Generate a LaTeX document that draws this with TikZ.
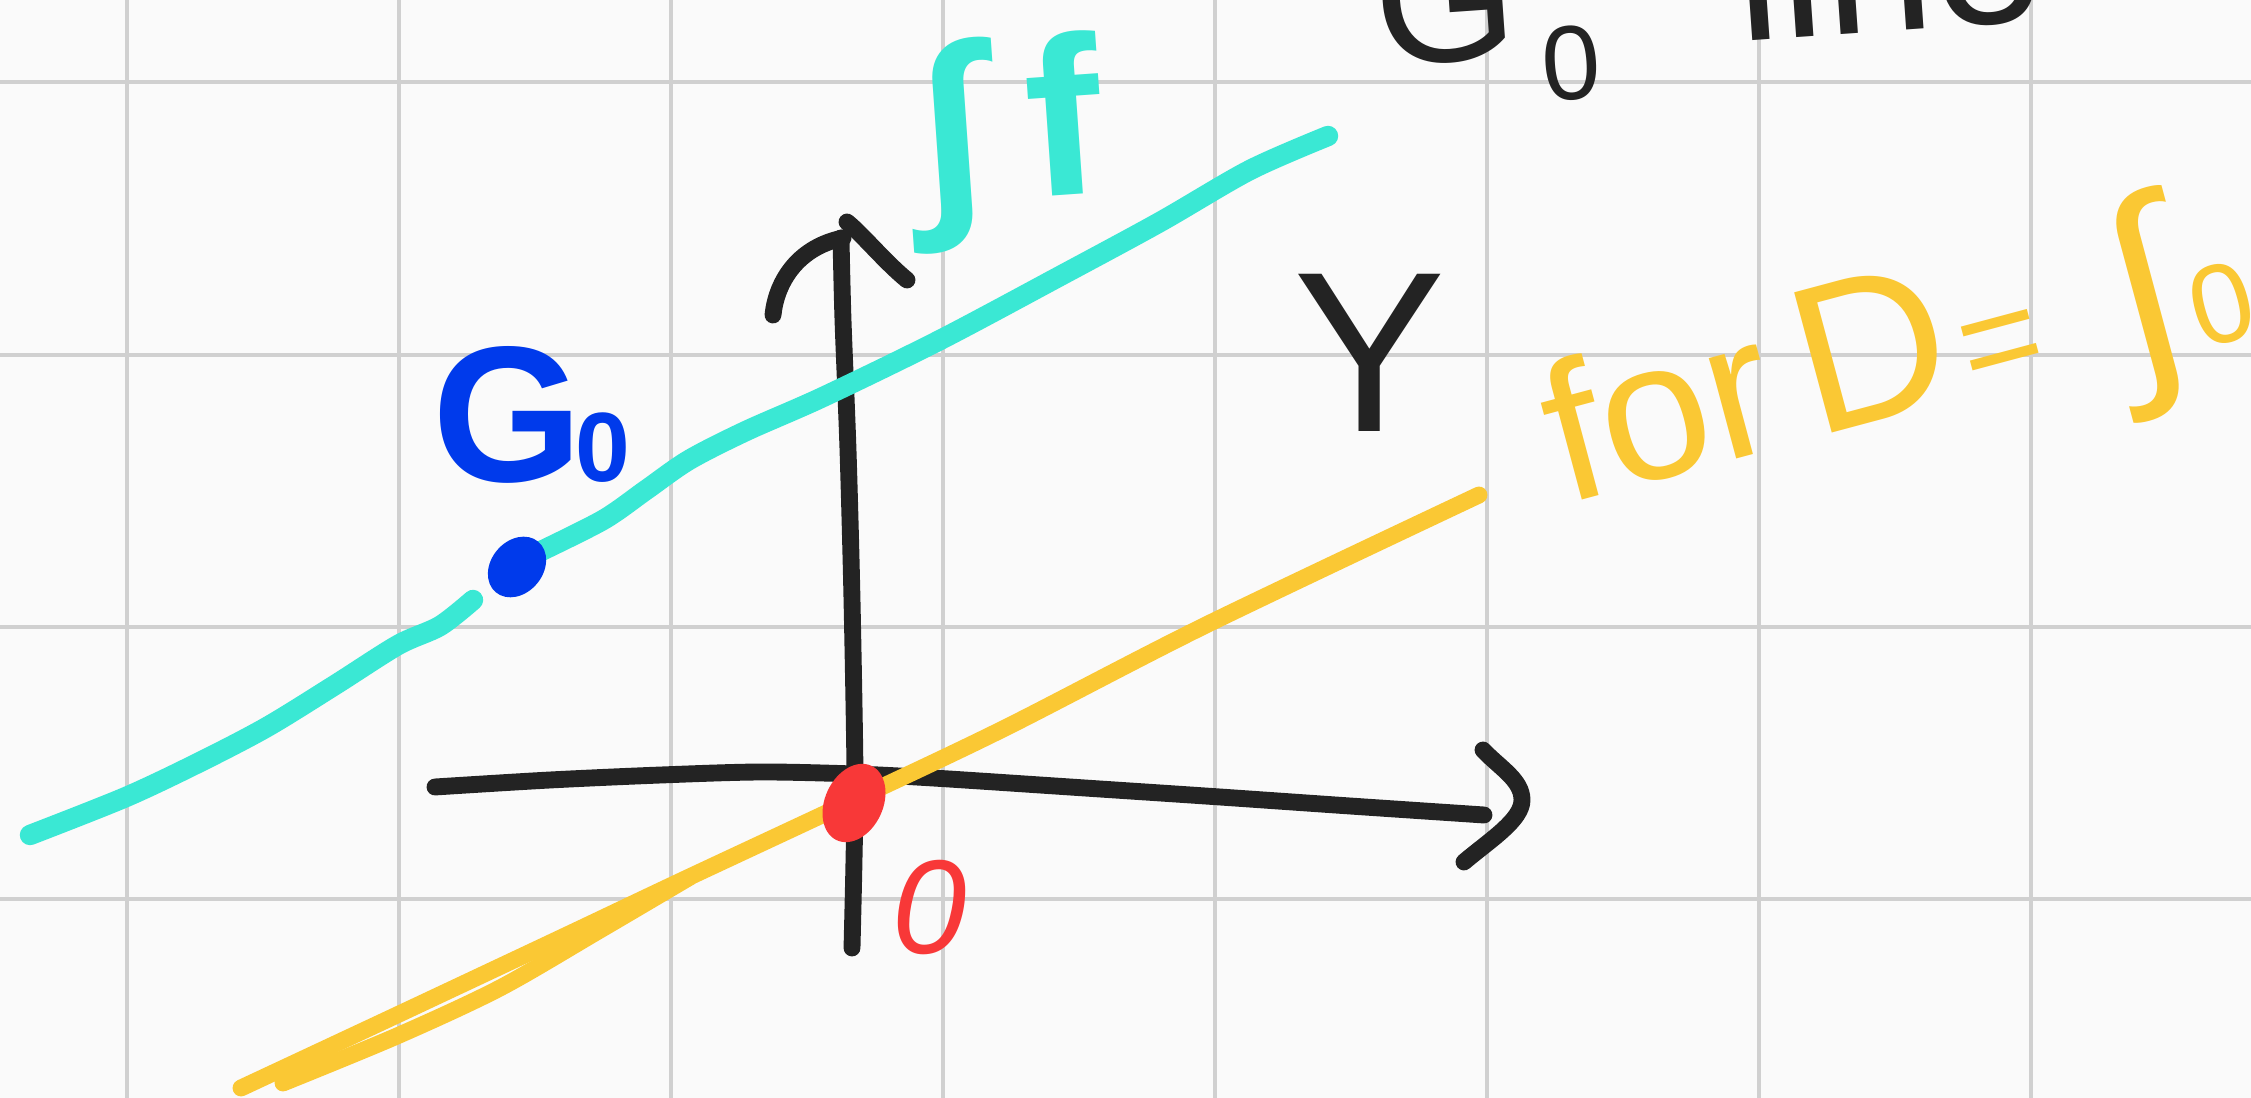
\documentclass[tikz,border=0pt]{standalone}
\usepackage{fontspec}
\setmainfont{Liberation Sans}
\definecolor{bgc}{RGB}{250,250,250}
\definecolor{gridc}{RGB}{208,208,208}
\definecolor{inkblack}{RGB}{35,35,35}
\definecolor{inkcyan}{RGB}{58,232,212}
\definecolor{inkblue}{RGB}{0,58,235}
\definecolor{inkyellow}{RGB}{250,200,52}
\definecolor{inkred}{RGB}{248,56,56}
\newcommand{\setfs}[1]{\fontsize{#1}{#1}\selectfont}
\tikzset{
  gridline/.style={draw=gridc, line width=0.9pt},
  axisline/.style={draw=inkblack, line width=4.8pt, line cap=round, line join=round},
  cyanline/.style={draw=inkcyan, line width=5.8pt, line cap=round, line join=round},
  yellowline/.style={draw=inkyellow, line width=4.8pt, line cap=round, line join=round},
  lbl/.style={inner sep=0pt, outer sep=0pt},
}
\begin{document}
\begin{tikzpicture}[x=0.01cm,y=-0.01cm]
\useasboundingbox (0,0) rectangle (2251,1098);
\clip (0,0) rectangle (2251,1098);
\fill[bgc] (0,0) rectangle (2251,1098);
\foreach \gx in {127,399,671,943,1215,1487,1759,2031} \draw[gridline] (\gx,0) -- (\gx,1098);
\foreach \gy in {82,355,627,899} \draw[gridline] (0,\gy) -- (2251,\gy);

% named points
\coordinate (origin) at (854,803);
\coordinate (g0pt) at (517,567);

% axes
\draw[axisline] plot[smooth, tension=0.5] coordinates {(435,787) (550,780) (661,775) (760,772) (854,774) (933,778) (1100,789) (1220,797) (1350,806) (1484,815)};
\draw[axisline] (1483,750) .. controls (1500,768) and (1522,780) .. (1522,800) .. controls (1522,820) and (1490,840) .. (1464,862);
\draw[axisline] plot[smooth, tension=0.5] coordinates {(852,948) (854,860) (855,775) (852,600) (848,450) (843,320) (841,238)};
\draw[axisline] (773,315) .. controls (776,285) and (795,248) .. (843,238);
\draw[axisline] (847,222) .. controls (862,234) and (885,262) .. (907,280);

% yellow line
\draw[yellowline] plot[smooth, tension=0.5] coordinates {(241,1088) (397,1015) (567,935) (683,880) (854,800) (1005,728) (1206,625) (1479,495)};
\draw[yellowline] plot[smooth, tension=0.5] coordinates {(283,1083) (397,1036) (500,988) (600,930) (690,877)};

% cyan line
\draw[cyanline] plot[smooth, tension=0.5] coordinates {(30,835) (126,797) (200,762) (267,727) (335,685) (398,645) (440,626) (473,600)};
\draw[cyanline] plot[smooth, tension=0.5] coordinates {(537,553) (603,520) (646,490) (689,460) (746,431) (823,397) (940,340) (1062,275) (1160,222) (1250,170) (1328,136)};

% dots
\fill[inkblue] (g0pt) ellipse [x radius=0.33cm, y radius=0.26cm, rotate=50];
\fill[inkred] (origin) ellipse [x radius=0.41cm, y radius=0.29cm, rotate=65];

% labels
\node[lbl, text=inkblue, anchor=base west] (g0lbl) at (432,482) {\bfseries\setfs{55}G\hspace{-2pt}\setfs{28}0};
\node[lbl, text=inkblack, anchor=base west, rotate=4] (g0line) at (1378,67) {{\setfs{52}G}\hspace{6pt}\raisebox{-13pt}{\setfs{30}0}\hspace{40pt}{\setfs{56}line}};
\node[lbl, text=inkblack] (ylbl) at (1370,353) {\setfs{65}Y};
\node[lbl, text=inkred] (olbl) at (930,908) {\setfs{38}\itshape 0};
\node[lbl, text=inkcyan, anchor=base west, rotate=4] (sflbl) at (925,205) {\bfseries\setfs{64}∫\hspace{0.2em}f};
\node[lbl, text=inkyellow, anchor=base west, rotate=15] (fordlbl) at (1565,505) {\setfs{56}for\hspace{0.15em}{\setfs{60}D}\hspace{0.05em}{\setfs{40}=}\hspace{0.4em}\raisebox{-0.1em}{\setfs{68}∫}\hspace{2pt}\raisebox{-4pt}{\setfs{32}0}};
\end{tikzpicture}
\end{document}
